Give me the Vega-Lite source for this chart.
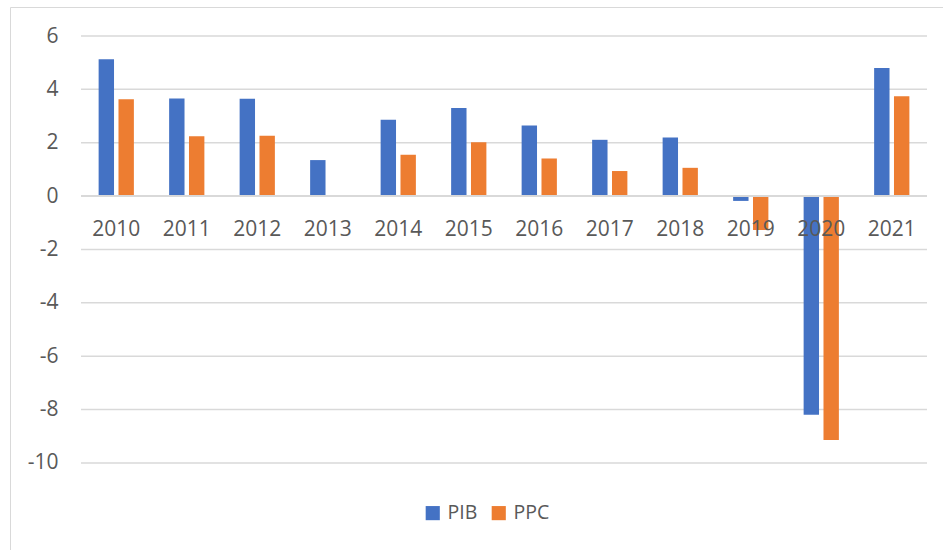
{
  "$schema": "https://vega.github.io/schema/vega-lite/v6.json",
  "width": 933,
  "height": 543,
  "autosize": {"type": "none"},
  "padding": {"left": 10, "top": 7, "right": 0, "bottom": 0},
  "background": "white",
  "config": {
    "view": {"stroke": "#d9d9d9", "strokeWidth": 1},
    "font": "Open Sans"
  },
  "data": {
    "values": [
      {"year": "2010", "series": "PIB", "value": 5.13},
      {"year": "2010", "series": "PPC", "value": 3.63},
      {"year": "2011", "series": "PIB", "value": 3.66},
      {"year": "2011", "series": "PPC", "value": 2.24},
      {"year": "2012", "series": "PIB", "value": 3.65},
      {"year": "2012", "series": "PPC", "value": 2.26},
      {"year": "2013", "series": "PIB", "value": 1.35},
      {"year": "2013", "series": "PPC", "value": 0},
      {"year": "2014", "series": "PIB", "value": 2.86},
      {"year": "2014", "series": "PPC", "value": 1.55},
      {"year": "2015", "series": "PIB", "value": 3.30},
      {"year": "2015", "series": "PPC", "value": 2.02},
      {"year": "2016", "series": "PIB", "value": 2.65},
      {"year": "2016", "series": "PPC", "value": 1.41},
      {"year": "2017", "series": "PIB", "value": 2.11},
      {"year": "2017", "series": "PPC", "value": 0.94},
      {"year": "2018", "series": "PIB", "value": 2.20},
      {"year": "2018", "series": "PPC", "value": 1.06},
      {"year": "2019", "series": "PIB", "value": -0.18},
      {"year": "2019", "series": "PPC", "value": -1.27},
      {"year": "2020", "series": "PIB", "value": -8.19},
      {"year": "2020", "series": "PPC", "value": -9.14},
      {"year": "2021", "series": "PIB", "value": 4.80},
      {"year": "2021", "series": "PPC", "value": 3.74}
    ]
  },
  "layer": [
    {
      "data": {"values": [{"g": -10}, {"g": -8}, {"g": -6}, {"g": -4}, {"g": -2}, {"g": 2}, {"g": 4}, {"g": 6}]},
      "mark": {"type": "rule", "color": "#d9d9d9", "strokeWidth": 1.5},
      "encoding": {
        "y": {"field": "g", "type": "quantitative", "scale": {"domain": [-13.262, 7.087], "nice": false, "zero": false}},
        "x": {"datum": "2010", "bandPosition": -0.5},
        "x2": {"datum": "2021", "bandPosition": 1.5}
      }
    },
    {
      "mark": {"type": "bar"},
      "encoding": {
        "x": {
          "field": "year",
          "type": "nominal",
          "scale": {"paddingInner": 0.5, "paddingOuter": 0.867, "align": 0.725},
          "axis": {
            "title": null,
            "orient": "bottom",
            "offset": -354,
            "bandPosition": 0.5,
            "domain": false,
            "ticks": false,
            "grid": false,
            "labelPadding": 39,
            "labelBaseline": "alphabetic",
            "labelAlign": "center",
            "labelFontSize": 21,
            "labelColor": "#595959",
            "labelAngle": 0,
            "zindex": 2
          }
        },
        "xOffset": {"field": "series", "type": "nominal", "scale": {"paddingInner": 0.225, "paddingOuter": 0}},
        "y": {
          "field": "value",
          "type": "quantitative",
          "scale": {"domain": [-13.262, 7.087], "nice": false, "zero": false},
          "axis": {
            "title": null,
            "values": [-10, -8, -6, -4, -2, 0, 2, 4, 6],
            "domain": false,
            "ticks": false,
            "grid": false,
            "labelAlign": "right",
            "labelBaseline": "middle",
            "labelPadding": -48,
            "labelFontSize": 21,
            "labelColor": "#595959",
            "labelExpr": "'' + datum.value"
          }
        },
        "y2": {"datum": 0},
        "color": {
          "field": "series",
          "type": "nominal",
          "scale": {"domain": ["PIB", "PPC"], "range": ["#4472C4", "#ED7D31"]},
          "legend": {
            "orient": "none",
            "legendX": 413,
            "legendY": 496,
            "direction": "horizontal",
            "title": null,
            "symbolType": "square",
            "symbolSize": 200,
            "symbolStrokeWidth": 0,
            "labelFontSize": 19.5,
            "labelColor": "#595959",
            "labelOffset": 5,
            "columnPadding": 11,
            "padding": 0,
            "symbolOffset": 0
          }
        }
      }
    },
    {
      "mark": {"type": "rule", "color": "#d9d9d9", "strokeWidth": 1.5},
      "encoding": {
        "y": {"datum": 0},
        "x": {"datum": "2010", "bandPosition": -0.5},
        "x2": {"datum": "2021", "bandPosition": 1.5}
      }
    }
  ]
}
